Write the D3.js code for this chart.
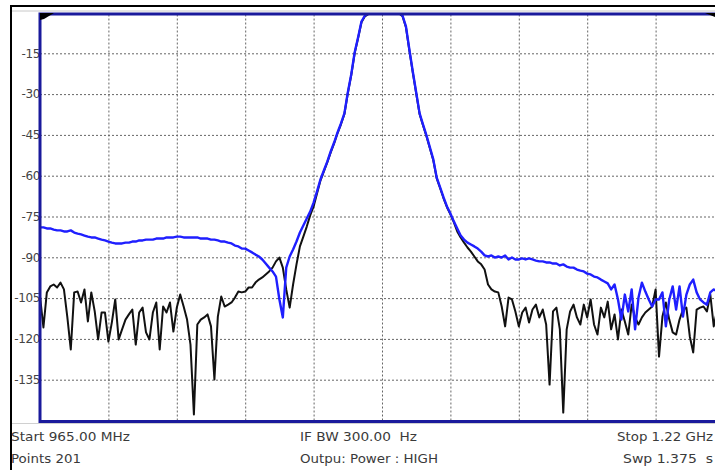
<!DOCTYPE html>
<html><head><meta charset="utf-8">
<script src="https://cdn.jsdelivr.net/npm/d3@7"></script>
<style>
html,body{margin:0;padding:0;background:#fff;overflow:hidden;}
svg{display:block;}
text{white-space:pre;}
</style></head>
<body>
<svg id="chart" width="715" height="470"></svg>
<script>
// ---- data (dB), 201 points from 965 MHz to 1220 MHz ----
const startMHz = 965, stopMHz = 1220, nPoints = 201;
const yTickValues = [-15, -30, -45, -60, -75, -90, -105, -120, -135];
const yTickLabels = ["-15", "-30", "-45", "-60", "-75", "-90", "-105", "-120", "-135"];
const xGridDivisions = [0, 1, 2, 3, 4, 5, 6, 7, 8, 9, 10];

const blueTrace = [
-79.0,-79.0,-79.4,-79.4,-79.8,-80.1,-80.1,-80.5,-80.5,-80.1,
-80.9,-81.3,-81.6,-82.0,-82.4,-82.7,-82.7,-83.1,-83.5,-83.8,
-84.2,-84.6,-84.9,-84.9,-84.9,-84.6,-84.6,-84.2,-84.2,-83.8,
-83.8,-83.5,-83.5,-83.5,-83.1,-83.1,-83.1,-82.7,-82.7,-82.7,
-82.4,-82.4,-82.7,-82.7,-82.7,-82.7,-82.7,-83.1,-83.1,-83.1,
-83.5,-83.5,-83.8,-84.2,-84.2,-84.6,-84.9,-85.7,-86.0,-86.8,
-86.8,-87.5,-88.2,-89.0,-89.7,-90.8,-92.3,-93.8,-95.2,-97.1,
-105.5,-112.1,-93.8,-89.7,-87.1,-84.2,-80.9,-78.3,-75.7,-73.2,
-69.9,-65.8,-61.4,-58.1,-54.8,-51.1,-47.8,-44.1,-40.8,-37.1,
-29.4,-22.8,-14.7,-9.2,-3.3,-1.1,-0.4,-0.2,-0.2,-0.2,
-0.2,-0.2,-0.2,-0.2,-0.2,-0.2,-1.1,-5.1,-13.6,-21.7,
-29.4,-37.1,-41.2,-45.2,-49.6,-54.0,-60.7,-64.3,-68.0,-71.3,
-73.9,-76.8,-79.4,-82.0,-83.5,-84.6,-85.3,-86.0,-86.8,-87.9,
-89.3,-89.7,-89.3,-90.1,-89.7,-90.1,-89.3,-90.8,-90.1,-90.8,
-90.8,-90.4,-90.8,-90.4,-90.8,-91.2,-91.5,-91.5,-91.9,-91.9,
-92.3,-92.3,-93.0,-92.6,-93.4,-93.8,-93.8,-94.5,-94.9,-95.2,
-96.0,-96.3,-97.1,-97.4,-98.2,-98.9,-99.6,-101.8,-100.0,-105.5,
-112.9,-103.7,-109.9,-101.8,-116.5,-104.8,-99.3,-102.6,-105.5,-108.1,
-105.5,-105.5,-102.9,-115.4,-105.5,-100.7,-109.2,-100.7,-111.8,-103.7,
-100.0,-98.2,-102.9,-105.5,-106.6,-107.4,-102.9,-101.8,-102.6,-101.1,
-101.8
];

const blackTrace = [
-104.4,-115.8,-102.9,-100.7,-100.0,-101.1,-99.3,-101.8,-112.1,-123.9,
-102.9,-102.6,-106.6,-101.8,-113.6,-102.9,-109.9,-120.2,-110.3,-110.3,
-121.0,-114.0,-105.5,-120.2,-116.5,-112.9,-111.0,-109.2,-122.1,-110.3,
-108.5,-117.6,-120.2,-110.3,-106.6,-123.9,-108.1,-110.3,-106.6,-117.3,
-108.5,-103.7,-108.1,-112.9,-122.1,-147.8,-114.7,-112.9,-112.1,-111.0,
-115.4,-134.9,-111.8,-104.4,-108.1,-107.4,-106.6,-104.8,-102.6,-102.9,
-102.6,-101.1,-101.1,-99.3,-98.2,-97.4,-96.3,-95.2,-93.8,-91.5,
-90.1,-93.8,-101.8,-108.5,-100.0,-92.6,-86.0,-82.4,-78.7,-74.6,
-71.3,-66.5,-61.8,-58.4,-55.1,-51.4,-48.1,-44.4,-41.1,-37.4,
-29.7,-23.1,-15.0,-9.5,-3.6,-1.4,-0.6,-0.4,-0.4,-0.4,
-0.4,-0.4,-0.4,-0.4,-0.4,-0.4,-1.4,-5.4,-13.9,-22.0,
-29.7,-37.4,-41.5,-45.5,-49.9,-54.3,-61.0,-64.6,-68.3,-71.6,
-74.2,-77.1,-80.5,-82.7,-84.6,-86.4,-87.9,-89.7,-91.5,-92.6,
-94.5,-100.0,-101.8,-102.6,-102.9,-108.1,-115.4,-104.8,-105.5,-109.9,
-115.4,-110.3,-108.5,-114.0,-109.2,-107.4,-112.1,-109.2,-114.7,-136.8,
-109.9,-108.5,-116.5,-147.1,-116.5,-109.9,-107.4,-112.1,-114.7,-107.4,
-112.1,-105.5,-114.7,-118.4,-108.5,-112.1,-106.3,-116.5,-111.0,-120.2,
-109.2,-113.6,-118.4,-107.4,-112.1,-114.7,-112.1,-110.3,-109.2,-108.1,
-101.8,-126.5,-111.8,-106.6,-112.9,-117.6,-118.4,-112.9,-109.2,-108.5,
-119.1,-125.0,-109.2,-108.5,-108.1,-109.9,-103.7,-115.4,-109.2,-111.0,
-107.4
];

const footerLeft = ["Start 965.00 MHz", "Points 201"];
const footerMid = ["IF BW 300.00  Hz", "Outpu: Power : HIGH"];
const footerRight = ["Stop 1.22 GHz", "Swp 1.375  s"];

// ---- layout ----
const svg = d3.select("#chart");
const L = 40, R = 724, T = 12.5, B = 420.5;

const x = d3.scaleLinear().domain([0, nPoints - 1]).range([L, R]);
const xDiv = d3.scaleLinear().domain([0, 10]).range([L, R]);
const y = d3.scaleLinear().domain([0, -150]).range([T, B]);

// outer frame
svg.append("line").attr("x1", 11).attr("x2", 715).attr("y1", 6).attr("y2", 6)
  .attr("stroke", "#000").attr("stroke-width", 2);
svg.append("line").attr("x1", 11).attr("x2", 715).attr("y1", 11).attr("y2", 11)
  .attr("stroke", "#c8c8c8").attr("stroke-width", 1);
svg.append("line").attr("x1", 11).attr("x2", 11).attr("y1", 5).attr("y2", 470)
  .attr("stroke", "#000").attr("stroke-width", 2);
svg.append("line").attr("x1", 12).attr("x2", 715).attr("y1", 423.5).attr("y2", 423.5)
  .attr("stroke", "#d0d0d0").attr("stroke-width", 1);

// grid via axes
const gridY = svg.append("g").attr("transform", `translate(${L},0)`)
  .call(d3.axisLeft(y).tickValues(yTickValues).tickSize(-(R - L)).tickFormat(""));
gridY.select(".domain").remove();
gridY.selectAll("line").attr("stroke", "#666").attr("stroke-dasharray", "2,2").attr("stroke-width", 1);

const gridX = svg.append("g").attr("transform", `translate(0,${B})`)
  .call(d3.axisBottom(xDiv).tickValues(xGridDivisions.slice(1, 10)).tickSize(-(B - T)).tickFormat(""));
gridX.select(".domain").remove();
gridX.selectAll("line").attr("stroke", "#666").attr("stroke-dasharray", "2,2").attr("stroke-width", 1);

// y labels via axis
const yAx = svg.append("g").attr("transform", `translate(${L},0)`)
  .call(d3.axisLeft(y).tickValues(yTickValues).tickSize(0).tickPadding(0)
    .tickFormat((d, i) => yTickLabels[i]));
yAx.select(".domain").remove();
yAx.selectAll("text").attr("font-family", "DejaVu Sans, sans-serif").attr("font-size", 12)
  .attr("fill", "#444").attr("letter-spacing", "-0.4");

// clip
svg.append("clipPath").attr("id", "plotclip").append("rect")
  .attr("x", L).attr("y", T + 1).attr("width", R - L).attr("height", B - T);

const line = d3.line().x((d, i) => x(i)).y(d => y(d));
const traces = svg.append("g").attr("clip-path", "url(#plotclip)");
traces.append("path").datum(blackTrace).attr("d", line)
  .attr("fill", "none").attr("stroke", "#111").attr("stroke-width", 2).attr("stroke-linejoin", "round");
traces.append("path").datum(blueTrace).attr("d", line)
  .attr("fill", "none").attr("stroke", "#1f1fff").attr("stroke-width", 2.4).attr("stroke-linejoin", "round");

// plot border
svg.append("rect").attr("x", L).attr("y", 14).attr("width", R - L).attr("height", 421.5 - 14)
  .attr("fill", "none").attr("stroke", "#1a1a9c").attr("stroke-width", 3);

// marker wedges
svg.append("path").attr("d", `M${L},${13} L${L + 14},${13} L${L + 4},${19} L${L},${20} Z`).attr("fill", "#000");
svg.append("path").attr("d", `M705,13 L715,13 L715,17 Z`).attr("fill", "#000");

// footer texts
const ff = "DejaVu Sans, sans-serif";
const fs = 13;
function txt(s, xp, yp, anchor, len) {
  svg.append("text").attr("x", xp).attr("y", yp).attr("text-anchor", anchor)
    .attr("xml:space", "preserve")
    .attr("font-family", ff).attr("font-size", fs).attr("fill", "#3a3a3a")
    .attr("textLength", len).attr("lengthAdjust", "spacingAndGlyphs").text(s);
}
txt(footerLeft[0], 11, 441, "start", 119);
txt(footerLeft[1], 11, 463, "start", 70);
txt(footerMid[0], 300, 441, "start", 117);
txt(footerMid[1], 300, 463, "start", 138);
txt(footerRight[0], 617, 441, "start", 96);
txt(footerRight[1], 623, 463, "start", 90);
</script>
</body></html>
